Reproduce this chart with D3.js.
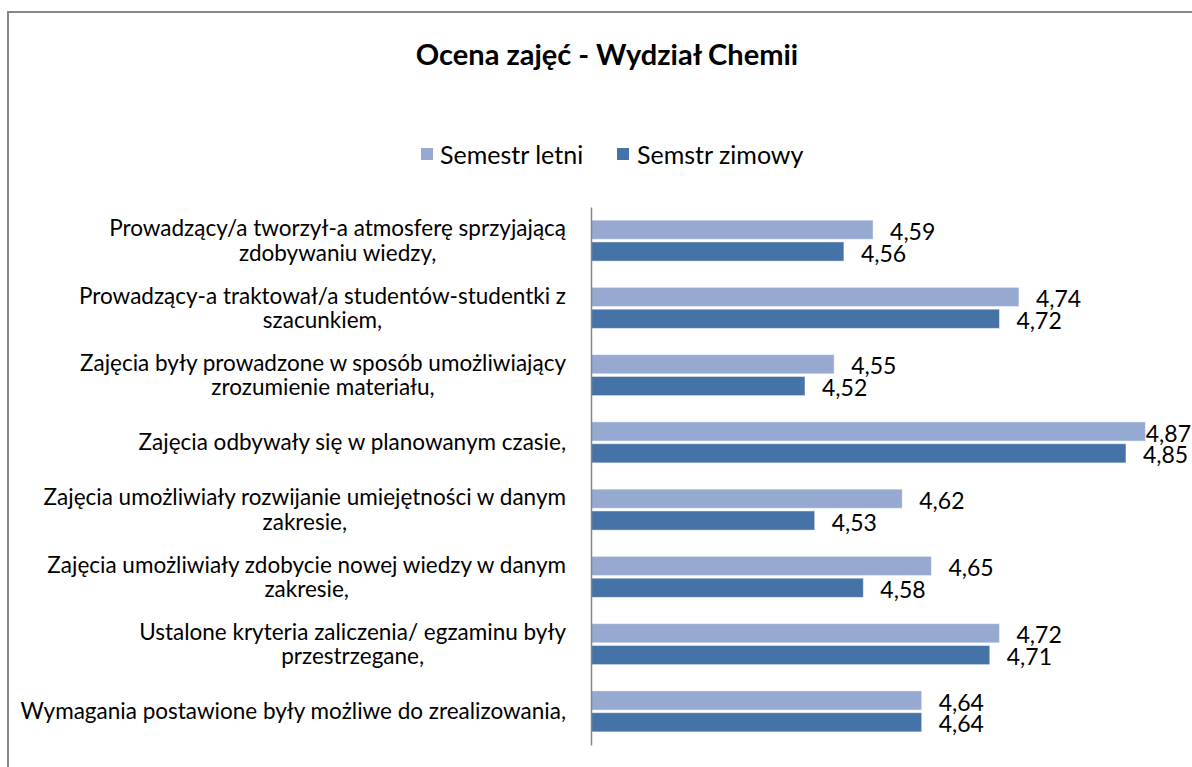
<!DOCTYPE html>
<html>
<head>
<meta charset="utf-8">
<script src="https://cdn.jsdelivr.net/npm/d3@7"></script>
<style>
html,body{margin:0;padding:0;background:#fff;overflow:hidden;}
svg{display:block;}
</style>
</head>
<body>
<svg id="chart" width="1192" height="767"></svg>
<script>
const title = "Ocena zajęć - Wydział Chemii";
const categories = [
  ["Prowadzący/a tworzył-a atmosferę sprzyjającą", "zdobywaniu wiedzy,"],
  ["Prowadzący-a traktował/a studentów-studentki z", "szacunkiem,"],
  ["Zajęcia były prowadzone w sposób umożliwiający", "zrozumienie materiału,"],
  ["Zajęcia odbywały się w planowanym czasie,"],
  ["Zajęcia umożliwiały rozwijanie umiejętności w danym", "zakresie,"],
  ["Zajęcia umożliwiały zdobycie nowej wiedzy w danym", "zakresie,"],
  ["Ustalone kryteria zaliczenia/ egzaminu były", "przestrzegane,"],
  ["Wymagania postawione były możliwe do zrealizowania,"]
];
const seriesNames = ["Semestr letni", "Semstr zimowy"];
const letni = [4.59, 4.74, 4.55, 4.87, 4.62, 4.65, 4.72, 4.64];
const zimowy = [4.56, 4.72, 4.52, 4.85, 4.53, 4.58, 4.71, 4.64];
const colors = ["#95A9D1", "#4573A7"];

const W = 1192, H = 767;
const svg = d3.select("#chart");
const FONT = "Lato, 'Open Sans', sans-serif";

// outer border
svg.append("rect").attr("x", 8).attr("y", 12).attr("width", 1300).attr("height", 900)
  .attr("fill", "#fff").attr("stroke", "#878787").attr("stroke-width", 2);

// title
svg.append("text").attr("x", 607).attr("y", 65).attr("text-anchor", "middle")
  .attr("font-family", FONT).attr("font-weight", "bold").attr("font-size", 29)
  .attr("fill", "#000").text(title);

// legend
const legendItems = [{x: 421, tx: 440}, {x: 617, tx: 637}];
seriesNames.forEach((n, i) => {
  svg.append("rect").attr("x", legendItems[i].x).attr("y", 148).attr("width", 12).attr("height", 12)
    .attr("fill", colors[i]);
  svg.append("text").attr("x", legendItems[i].tx).attr("y", 155).attr("dy", "0.35em")
    .attr("font-family", FONT).attr("font-size", 25).attr("fill", "#000").text(n);
});

const idx = d3.range(categories.length);
const x = d3.scaleLinear().domain([4.3, 4.9]).range([591, 1174.6]);
const y0 = d3.scaleBand().domain(idx).range([207, 745]).paddingInner(0.39).paddingOuter(0.195);
const y1 = d3.scaleBand().domain([0, 1]).range([0, y0.bandwidth()]).paddingInner(0.12);

const data = idx.map(i => [letni[i], zimowy[i]]);

const g = svg.append("g");
const groups = g.selectAll("g.cat").data(data).join("g")
  .attr("transform", (d, i) => `translate(0,${y0(i)})`);

groups.selectAll("rect").data(d => d).join("rect")
  .attr("x", x(4.3))
  .attr("y", (d, j) => y1(j))
  .attr("width", d => x(d) - x(4.3))
  .attr("height", y1.bandwidth())
  .attr("fill", (d, j) => colors[j])
  .attr("stroke", "rgba(255,255,255,0.5)").attr("stroke-width", 1);

groups.selectAll("text.val").data(d => d).join("text").attr("class", "val")
  .attr("x", d => x(d) + 17)
  .attr("y", (d, j) => y1(j) + y1.bandwidth() / 2 + 2)
  .attr("dy", "0.35em")
  .attr("font-family", FONT).attr("font-size", 23).attr("fill", "#000")
  .text(d => d.toFixed(2).replace(".", ","))
  .each(function() {
    const w = this.getComputedTextLength();
    const cx = +this.getAttribute("x");
    if (cx + w > W - 1) this.setAttribute("x", W - 1 - w);
  });

// category labels: block right-aligned, lines centered within block
const labels = svg.append("g");
categories.forEach((lines, i) => {
  const cy = y0(i) + y0.bandwidth() / 2;
  const n = lines.length;
  const nodes = lines.map((ln, k) => labels.append("text")
      .attr("y", cy + (k - (n - 1) / 2) * 24.5)
      .attr("dy", "0.35em")
      .attr("text-anchor", "middle")
      .attr("font-family", FONT).attr("font-size", 22.5).attr("fill", "#000")
      .text(ln));
  const maxW = d3.max(nodes, t => t.node().getComputedTextLength());
  nodes.forEach(t => t.attr("x", 566 - maxW / 2));
});

// axis
const yAxis = d3.axisLeft(d3.scaleLinear().range([207, 745])).tickValues([]).tickSizeOuter(0);
const ax = svg.append("g").attr("transform", `translate(${x(4.3)},0)`).call(yAxis);
ax.select(".domain").attr("stroke", "#868686").attr("stroke-width", 1.5);
</script>
</body>
</html>
